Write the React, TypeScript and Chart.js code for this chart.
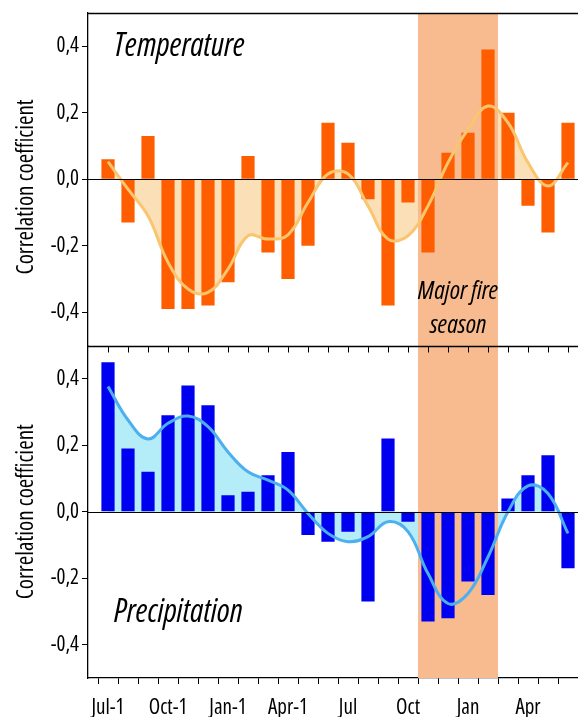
import React, { useEffect, useRef } from "react";
import { Chart, registerables } from "chart.js";

Chart.register(...registerables);

// ---- data ----
const months = [
  "Jul-1", "Aug-1", "Sep-1", "Oct-1", "Nov-1", "Dec-1", "Jan-1", "Feb-1", "Mar-1", "Apr-1", "May-1", "Jun-1",
  "Jul", "Aug", "Sep", "Oct", "Nov", "Dec", "Jan", "Feb", "Mar", "Apr", "May", "Jun",
];
const tickLabelMonths = ["Jul-1", "Oct-1", "Jan-1", "Apr-1", "Jul", "Oct", "Jan", "Apr"];
const yTickValues = [-0.4, -0.2, 0, 0.2, 0.4];
const yAxisTitle = "Correlation coefficient";

const temperatureBars = [
  0.06, -0.13, 0.13, -0.39, -0.39, -0.38, -0.31, 0.07, -0.22, -0.30, -0.20, 0.17,
  0.11, -0.06, -0.38, -0.07, -0.22, 0.08, 0.14, 0.39, 0.20, -0.08, -0.16, 0.17,
];
const temperatureCurve = [
  0.053, -0.03, -0.11, -0.25, -0.33, -0.34, -0.27, -0.17, -0.18, -0.167, -0.07, 0.016,
  0.016, -0.08, -0.18, -0.17, -0.08, 0.05, 0.15, 0.22, 0.17, 0.05, -0.02, 0.05,
];
const precipitationBars = [
  0.45, 0.19, 0.12, 0.29, 0.38, 0.32, 0.05, 0.06, 0.11, 0.18, -0.07, -0.09,
  -0.06, -0.27, 0.22, -0.03, -0.33, -0.32, -0.21, -0.25, 0.04, 0.11, 0.17, -0.17,
];
const precipitationCurve = [
  0.377, 0.276, 0.219, 0.266, 0.288, 0.256, 0.18, 0.12, 0.095, 0.065, -0.005, -0.065,
  -0.09, -0.075, -0.03, -0.06, -0.186, -0.276, -0.246, -0.136, 0.0, 0.078, 0.055, -0.065,
];
const fireSeasonStart = "Nov";
const fireSeasonEnd = "Feb";

const FAMILY = "'Open Sans', 'DejaVu Sans', sans-serif";
const COND = "condensed"; // font-stretch, passed through Chart.js' weight slot

const pts = (arr: number[]) => arr.map((y, x) => ({ x, y }));
const fmt = (v: number) => v.toFixed(1).replace(".", ",");

const panelPlugin = {
  id: "panels",
  beforeDatasetsDraw(chart: any) {
    chart.$shadeDone = false;
  },
  beforeDatasetDraw(chart: any, args: any) {
    if (args.meta.type !== "bar" || chart.$shadeDone) return;
    chart.$shadeDone = true;
    const { ctx, chartArea, scales } = chart;
    const x0 = scales.x.getPixelForValue(months.indexOf(fireSeasonStart) - 0.5);
    const x1 = scales.x.getPixelForValue(months.lastIndexOf(fireSeasonEnd) + 0.5);
    ctx.save();
    ctx.fillStyle = "#F7BB8F";
    ctx.fillRect(x0, chartArea.top, x1 - x0, chartArea.bottom - chartArea.top);
    ctx.restore();
  },
  afterDatasetsDraw(chart: any) {
    const { ctx, chartArea, scales } = chart;
    const { x, yT, yB } = scales;
    ctx.save();
    ctx.strokeStyle = "#000";
    ctx.lineWidth = 1;
    // zero lines
    [yT, yB].forEach((s: any) => {
      const y = Math.round(s.getPixelForValue(0)) + 0.5;
      ctx.beginPath();
      ctx.moveTo(chartArea.left, y);
      ctx.lineTo(chartArea.right, y);
      ctx.stroke();
    });
    // top border
    ctx.lineWidth = 1.3;
    let y = Math.round(chartArea.top) + 0.5;
    ctx.beginPath();
    ctx.moveTo(chartArea.left, y);
    ctx.lineTo(chartArea.right, y);
    ctx.stroke();
    // separator with ticks
    y = Math.round(yT.bottom) + 0.5;
    ctx.beginPath();
    ctx.moveTo(chartArea.left, y);
    ctx.lineTo(chartArea.right, y);
    ctx.stroke();
    ctx.lineWidth = 1;
    ctx.beginPath();
    months.forEach((_, i) => {
      const px = Math.round(x.getPixelForValue(i)) + 0.5;
      ctx.moveTo(px, y);
      ctx.lineTo(px, y + 6);
    });
    ctx.stroke();

    ctx.fillStyle = "#000";
    // y-axis titles
    ctx.font = `${COND} 23px ${FAMILY}`;
    ctx.textAlign = "center";
    ctx.textBaseline = "alphabetic";
    [
      [yT, -0.023],
      [yB, 0],
    ].forEach(([s, v]: any) => {
      ctx.save();
      ctx.translate(33, s.getPixelForValue(v));
      ctx.rotate(-Math.PI / 2);
      ctx.fillText(yAxisTitle, 0, 0);
      ctx.restore();
    });

    // panel titles
    ctx.textAlign = "left";
    ctx.font = `italic ${COND} 32px ${FAMILY}`;
    ctx.fillText("Temperature", chartArea.left + 26, yT.getPixelForValue(0.4) + 9.5);
    ctx.fillText("Precipitation", chartArea.left + 26, yB.getPixelForValue(-0.3) + 10);

    // fire season label
    ctx.font = `italic ${COND} 25.5px ${FAMILY}`;
    ctx.textAlign = "center";
    const cx = x.getPixelForValue((months.indexOf(fireSeasonStart) + months.lastIndexOf(fireSeasonEnd)) / 2);
    ctx.fillText("Major fire", cx, yT.getPixelForValue(-0.36));
    ctx.fillText("season", cx, yT.getPixelForValue(-0.462));
    ctx.restore();
  },
};

function yScale(weight: number) {
  return {
    type: "linear" as const,
    position: "left" as const,
    stack: "panels",
    stackWeight: 1,
    weight,
    min: -0.5,
    max: 0.5,
    afterBuildTicks: (s: any) => {
      s.ticks = yTickValues.map((v) => ({ value: v }));
    },
    afterFit: (s: any) => {
      s.width = 88;
      s.paddingTop = 0;
      s.paddingBottom = 0;
    },
    ticks: {
      callback: (v: any) => fmt(Number(v)),
      color: "#000",
      padding: 3,
      font: { family: FAMILY, weight: COND, size: 21 },
    },
    grid: { drawOnChartArea: false, drawTicks: true, tickLength: 6, color: "#000", lineWidth: 1 },
    border: { display: true, color: "#000", width: 1.3 },
    title: { display: false },
  };
}

export default function App() {
  const ref = useRef<HTMLCanvasElement | null>(null);

  useEffect(() => {
    if (!ref.current) return;
    const barCommon = { barPercentage: 0.66, categoryPercentage: 1, grouped: false, order: 2 };
    const chart = new Chart(ref.current, {
      type: "bar",
      data: {
        datasets: [
          {
            type: "line",
            label: "Temperature fill",
            data: pts(temperatureCurve),
            yAxisID: "yT",
            borderWidth: 0,
            pointRadius: 0,
            tension: 0.4,
            fill: "origin",
            backgroundColor: "#FBE0B7",
            order: 3,
          },
          {
            type: "bar",
            label: "Temperature",
            data: pts(temperatureBars),
            yAxisID: "yT",
            backgroundColor: "#FF5E00",
            ...barCommon,
          },
          {
            type: "line",
            label: "Temperature smooth",
            data: pts(temperatureCurve),
            yAxisID: "yT",
            borderColor: "#F9C56F",
            borderWidth: 3,
            pointRadius: 0,
            tension: 0.4,
            fill: false,
            order: 1,
          },
          {
            type: "line",
            label: "Precipitation fill",
            data: pts(precipitationCurve),
            yAxisID: "yB",
            borderWidth: 0,
            pointRadius: 0,
            tension: 0.4,
            fill: "origin",
            backgroundColor: "#B4ECF8",
            order: 3,
          },
          {
            type: "bar",
            label: "Precipitation",
            data: pts(precipitationBars),
            yAxisID: "yB",
            backgroundColor: "#0000F0",
            ...barCommon,
          },
          {
            type: "line",
            label: "Precipitation smooth",
            data: pts(precipitationCurve),
            yAxisID: "yB",
            borderColor: "#4BAFF0",
            borderWidth: 3,
            pointRadius: 0,
            tension: 0.4,
            fill: false,
            order: 1,
          },
        ] as any,
      },
      options: {
        animation: false,
        responsive: false,
        devicePixelRatio: 1,
        layout: { padding: { top: 13, left: 0, right: 0, bottom: 0 } },
        plugins: { legend: { display: false }, tooltip: { enabled: false } },
        scales: {
          x: {
            type: "linear",
            offset: false,
            min: -1,
            max: 23.5,
            afterBuildTicks: (s: any) => {
              s.ticks = months.map((_, i) => ({ value: i }));
            },
            afterFit: (s: any) => {
              s.height = 39;
              s.paddingLeft = 0;
              s.paddingRight = 0;
            },
            ticks: {
              autoSkip: false,
              maxRotation: 0,
              color: "#000",
              padding: 11,
              font: { family: FAMILY, weight: COND, size: 21 },
              callback: (v: any) => {
                const m = months[Number(v)];
                return tickLabelMonths.includes(m) ? m : "";
              },
            },
            grid: { drawOnChartArea: false, drawTicks: true, tickLength: 6, color: "#000", lineWidth: 1 },
            border: { display: true, color: "#000", width: 1.3 },
          },
          yT: yScale(2),
          yB: yScale(1),
        } as any,
      },
      plugins: [panelPlugin],
    });
    return () => chart.destroy();
  }, []);

  return (
    <div style={{ position: "absolute", left: 0, top: 0, width: 578, height: 717 }}>
      <canvas ref={ref} width={578} height={717} />
    </div>
  );
}
